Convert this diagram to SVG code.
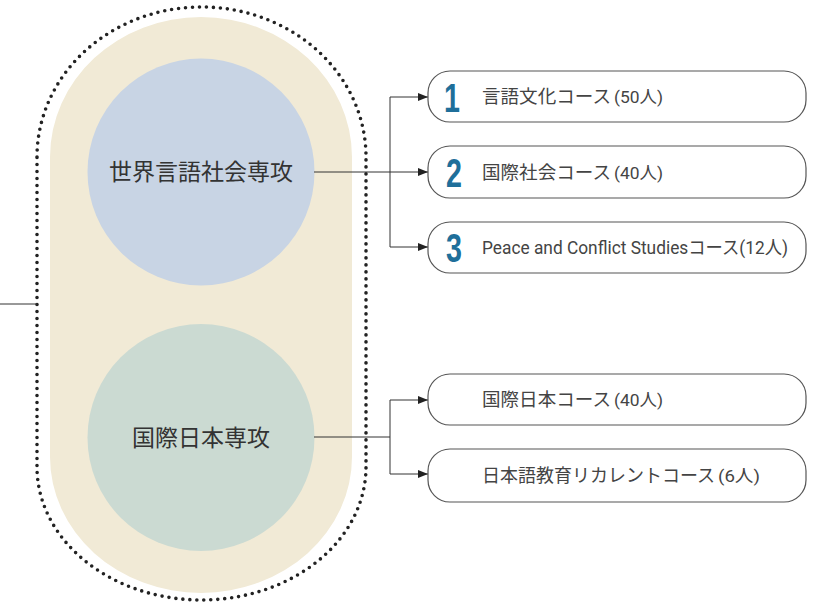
<svg xmlns="http://www.w3.org/2000/svg" width="824" height="602" viewBox="0 0 824 602">
<defs>
<marker id="arr" viewBox="0 0 10 8" refX="10" refY="4" markerWidth="10" markerHeight="8" markerUnits="userSpaceOnUse" orient="auto">
<path d="M0,0 L10,4 L0,8 Z" fill="#222"/>
</marker>
</defs>
<style>
.box{fill:#fff;stroke:#555;stroke-width:1.2}
.lbl{font-family:"Noto Sans CJK JP","Liberation Sans",sans-serif;font-size:18.5px;fill:#444}
.sm{font-family:"Liberation Sans Narrow","Roboto","Noto Sans CJK JP",sans-serif;font-size:17px;fill:#444}
.lat{font-family:"Liberation Sans Narrow","Roboto","Noto Sans CJK JP",sans-serif;font-size:18.5px;fill:#444}
.num{font-family:"Liberation Sans","Roboto",sans-serif;font-weight:bold;font-size:41px;fill:#1f6f9a}
.major{font-family:"Noto Sans CJK JP","Liberation Sans",sans-serif;font-size:23px;fill:#333;text-anchor:middle}
.conn{fill:none;stroke:#333;stroke-width:1}
</style>
<g id="container">
<path d="M50,157 A151,140 0 0 1 352,157 L352,457 A151,136 0 0 1 50,457 Z" fill="#f1ead6"/>
<path d="M37,157 A164.5,150 0 0 1 366,157 L366,467 A164.5,133 0 0 1 37,467 Z" fill="none" stroke="#222" stroke-width="3.6" stroke-linecap="round" stroke-dasharray="0 7"/>
</g>
<g id="major1">
<circle cx="201" cy="172" r="113.5" fill="#c8d4e4"/>
<text class="major" x="201" y="180">世界言語社会専攻</text>
</g>
<g id="major2">
<circle cx="201" cy="437.5" r="113.5" fill="#cbdad2"/>
<text class="major" x="201" y="445.5">国際日本専攻</text>
</g>
<g id="connectors">
<line class="conn" x1="0" y1="304" x2="37" y2="304" stroke="#777"/>
<polyline class="conn" points="314,172 390,172"/>
<polyline class="conn" points="390,97 390,247"/>
<line class="conn" x1="390" y1="97" x2="428" y2="97" marker-end="url(#arr)"/>
<line class="conn" x1="390" y1="172" x2="428" y2="172" marker-end="url(#arr)"/>
<line class="conn" x1="390" y1="247" x2="428" y2="247" marker-end="url(#arr)"/>
<polyline class="conn" points="314,437 390,437"/>
<polyline class="conn" points="390,400 390,474"/>
<line class="conn" x1="390" y1="400" x2="428" y2="400" marker-end="url(#arr)"/>
<line class="conn" x1="390" y1="474" x2="428" y2="474" marker-end="url(#arr)"/>
</g>
<g id="course1">
<rect class="box" x="428" y="71" width="378" height="51" rx="22"/>
<text class="num" transform="translate(452,112) scale(0.7,1)" text-anchor="middle">1</text>
<text class="lbl" x="482" y="103" textLength="129" lengthAdjust="spacingAndGlyphs">言語文化コース</text>
<text class="sm" x="614" y="103" textLength="49" lengthAdjust="spacingAndGlyphs">(50人)</text>
</g>
<g id="course2">
<rect class="box" x="428" y="146" width="378" height="52" rx="22"/>
<text class="num" transform="translate(454,187) scale(0.7,1)" text-anchor="middle">2</text>
<text class="lbl" x="482" y="178.5" textLength="129" lengthAdjust="spacingAndGlyphs">国際社会コース</text>
<text class="sm" x="614" y="178.5" textLength="49" lengthAdjust="spacingAndGlyphs">(40人)</text>
</g>
<g id="course3">
<rect class="box" x="428" y="222" width="378" height="51" rx="22"/>
<text class="num" transform="translate(454,262) scale(0.7,1)" text-anchor="middle">3</text>
<text class="lat" x="482" y="254" textLength="306" lengthAdjust="spacingAndGlyphs">Peace and Conflict Studiesコース(12人)</text>
</g>
<g id="course4">
<rect class="box" x="428" y="374" width="378" height="51" rx="22"/>
<text class="lbl" x="482" y="406" textLength="129" lengthAdjust="spacingAndGlyphs">国際日本コース</text>
<text class="sm" x="614" y="406" textLength="49" lengthAdjust="spacingAndGlyphs">(40人)</text>
</g>
<g id="course5">
<rect class="box" x="428" y="449" width="378" height="53" rx="22"/>
<text class="lbl" x="482" y="482" textLength="233" lengthAdjust="spacingAndGlyphs">日本語教育リカレントコース</text>
<text class="sm" x="718" y="482" textLength="42" lengthAdjust="spacingAndGlyphs">(6人)</text>
</g>
</svg>
